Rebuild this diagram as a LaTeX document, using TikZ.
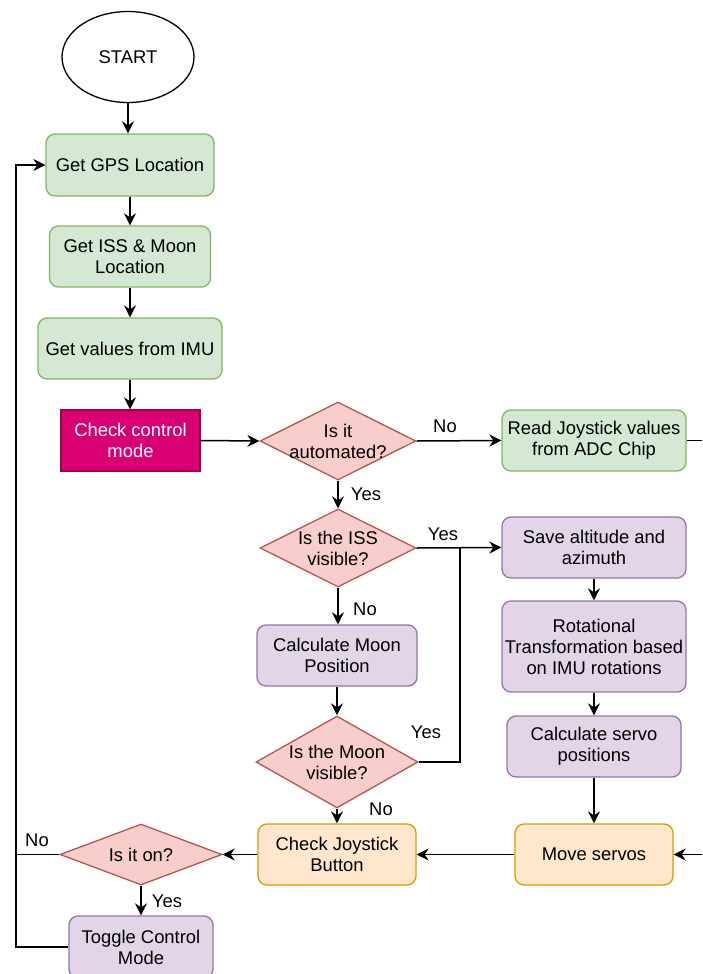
\documentclass[tikz,border=0pt]{standalone}
\usepackage{fontspec}
\setmainfont{Liberation Sans}
\usetikzlibrary{arrows.meta,shapes.geometric}
\definecolor{gfill}{HTML}{D5E8D4}
\definecolor{gstroke}{HTML}{82B366}
\definecolor{pfill}{HTML}{E1D5E7}
\definecolor{pstroke}{HTML}{9673A6}
\definecolor{ofill}{HTML}{FFE6CC}
\definecolor{ostroke}{HTML}{D79B00}
\definecolor{rfill}{HTML}{F8CECC}
\definecolor{rstroke}{HTML}{B85450}
\definecolor{mfill}{HTML}{D80073}
\definecolor{mstroke}{HTML}{A50040}
\newcommand{\fs}{\fontsize{18.4}{21}\selectfont}
\tikzset{
  box/.style={rectangle,rounded corners=9pt,draw,line width=1.3pt,align=center,inner sep=0pt,font=\fs},
  gbox/.style={box,fill=gfill,draw=gstroke},
  pbox/.style={box,fill=pfill,draw=pstroke},
  obox/.style={box,fill=ofill,draw=ostroke},
  mbox/.style={box,rounded corners=0pt,fill=mfill,draw=mstroke,text=white},
  dia/.style={diamond,draw=rstroke,fill=rfill,line width=1.3pt,inner sep=0pt},
  conn/.style={line width=1.5pt,-{Stealth[length=12pt,width=12pt,inset=4pt]}},
  plain/.style={line width=1.5pt},
  lab/.style={font=\fs,inner sep=0pt}
}
\begin{document}
\begin{tikzpicture}[x=1pt,y=-1pt]
\useasboundingbox (0,0) rectangle (702,974);
\clip (0,0) rectangle (702,974);
% nodes
\node[ellipse,draw,line width=1.3pt,fill=white,minimum width=132,minimum height=91,font=\fs] (start) at (128,57) {START};
\node[gbox,minimum width=168,minimum height=62] (gps) at (130,165) {Get GPS Location};
\node[gbox,minimum width=161,minimum height=61] (iss) at (130,256.5) {Get ISS \& Moon\\Location};
\node[gbox,minimum width=184,minimum height=61] (imu) at (130,348.5) {Get values from IMU};
\node[mbox,minimum width=139,minimum height=61] (chk) at (130.5,440.5) {Check control\\mode};
\node[dia,minimum width=156,minimum height=78,label={[align=center,font=\fs]center:Is it\\automated?}] (auto) at (338,441) {};
\node[gbox,minimum width=184,minimum height=61] (read) at (594,440.5) {Read Joystick values\\from ADC Chip};
\node[dia,minimum width=156,minimum height=78,label={[align=center,font=\fs]center:Is the ISS\\visible?}] (vis) at (338,548) {};
\node[pbox,minimum width=184,minimum height=61] (save) at (594,547.5) {Save altitude and\\azimuth};
\node[pbox,minimum width=184,minimum height=91] (rot) at (594,646.5) {Rotational\\Transformation based\\on IMU rotations};
\node[pbox,minimum width=174,minimum height=61] (serv) at (594,746.5) {Calculate servo\\positions};
\node[obox,minimum width=158,minimum height=61] (move) at (594,854.5) {Move servos};
\node[pbox,minimum width=160,minimum height=61] (cmoon) at (337,655.5) {Calculate Moon\\Position};
\node[dia,minimum width=162,minimum height=92,label={[align=center,font=\fs]center:Is the Moon\\visible?}] (mvis) at (337,762) {};
\node[obox,minimum width=158,minimum height=61] (joy) at (337,854.5) {Check Joystick\\Button};
\node[dia,minimum width=162,minimum height=61,label={[font=\fs]center:Is it on?}] (on) at (141,854.5) {};
\node[pbox,minimum width=144,minimum height=62] (tog) at (141,947) {Toggle Control\\Mode};
% coordinates
\coordinate (jn) at (460,548);
\coordinate (lp) at (16,854.5);
\coordinate (re1) at (702,440.5);
\coordinate (re2) at (702,854.5);
% connectors
\draw[conn] (start.south) -- (start.south |- gps.north);
\draw[conn] (gps.south) -- (iss.north);
\draw[conn] (iss.south) -- (imu.north);
\draw[conn] (imu.south) -- (imu.south |- chk.north);
\draw[conn] (chk.east) -- (auto.west);
\draw[conn] (auto.east) -- (read.west);
\draw[plain] (read.east) -- (re1);
\draw[conn] (auto.south) -- (vis.north);
\draw[conn] (vis.east) -- (save.west);
\draw[conn] (vis.south) -- (vis.south |- cmoon.north);
\draw[conn] (cmoon.south) -- (mvis.north);
\draw[conn] (mvis.south) -- (joy.north);
\draw[plain] (mvis.east) -| (jn);
\draw[conn] (save.south) -- (rot.north);
\draw[conn] (rot.south) -- (serv.north);
\draw[conn] (serv.south) -- (move.north);
\draw[conn] (re2) -- (move.east);
\draw[conn] (move.west) -- (joy.east);
\draw[conn] (joy.west) -- (on.east);
\draw[conn] (on.west) -- (lp) |- (gps.west);
\draw[plain] (tog.west) -| (lp);
\draw[conn] (on.south) -- (tog.north);
% labels
\node[lab] (l1) at (445,426) {No};
\node[lab] (l2) at (366,494) {Yes};
\node[lab] (l3) at (443,534) {Yes};
\node[lab] (l4) at (365,609) {No};
\node[lab] (l5) at (426,732) {Yes};
\node[lab] (l6) at (381,809) {No};
\node[lab] (l7) at (37,840) {No};
\node[lab] (l8) at (167,901) {Yes};
\end{tikzpicture}
\end{document}
